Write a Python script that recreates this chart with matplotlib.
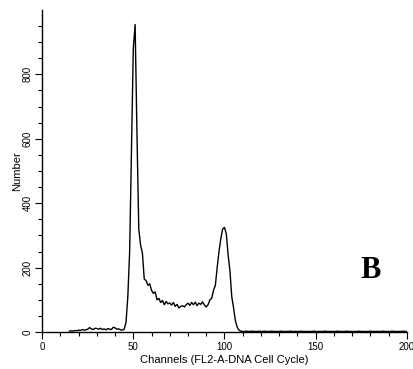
"""
DNA cell cycle histogram (panel B)
"""

import matplotlib
matplotlib.use("Agg")
import matplotlib.pyplot as plt
from matplotlib.ticker import MultipleLocator, FixedLocator

# histogram counts, one value per channel, starting at channel 15
start_channel = 15
counts_low = [3, 4, 3, 5, 4, 6, 5, 8, 6, 7, 9, 14, 10, 8, 12,
              11, 9, 12, 8, 10, 7, 11, 9, 8, 15, 13, 9, 10, 7, 6, 9]          # ch 15-45
counts_g1 = [30, 110, 250, 560, 880, 955, 620, 320, 270, 245, 165]           # ch 46-56
counts_s = [160, 145, 150, 130, 120, 125, 100, 105, 92, 98, 85, 95, 88, 90,
            84, 92, 80, 86, 75, 80, 82, 78, 85, 90, 83, 92, 85, 93, 82, 90,
            86, 94, 84, 78, 85, 100, 105, 130, 145]                          # ch 57-95
counts_g2 = [200, 250, 290, 320, 325, 305, 240, 190, 110, 75, 35, 15, 6, 3]  # ch 96-109
counts_tail = [2, 2, 3, 2, 2, 3, 2, 2, 2, 3, 2, 2, 3, 2, 2, 2, 3, 2, 2, 2,
               2, 3, 2, 2, 2, 2, 3, 2, 2, 2, 2, 2, 3, 2, 2, 2, 2, 2, 2, 3,
               2, 2, 2, 2, 2, 3, 2, 2, 2, 2, 2, 2, 3, 2, 2, 2, 2, 3, 2, 2,
               2, 2, 2, 2, 3, 2, 2, 2, 2, 2, 3, 2, 2, 2, 2, 2, 2, 3, 2, 2,
               2, 2, 3, 2, 2, 2, 2, 2, 3, 2, 2]                               # ch 110-200

counts = counts_low + counts_g1 + counts_s + counts_g2 + counts_tail
channels = list(range(start_channel, start_channel + len(counts)))

x_ticks = [0, 50, 100, 150, 200]
y_ticks = [0, 200, 400, 600, 800]
y_minor_ticks = list(range(0, 1000, 50))

plt.rcParams['font.family'] = ['Liberation Sans', 'DejaVu Sans']

fig = plt.figure(figsize=(4.13, 3.69), dpi=100)
ax = fig.add_axes([0.102, 0.100, 0.883, 0.873])

ax.plot(channels, counts, color="black", linewidth=1.0)

ax.set_xlim(0, 200)
ax.set_ylim(0, 1000)

ax.spines['top'].set_visible(False)
ax.spines['right'].set_visible(False)
ax.spines['left'].set_linewidth(1.0)
ax.spines['bottom'].set_linewidth(1.0)

ax.set_xticks(x_ticks)
ax.set_yticks(y_ticks)
ax.xaxis.set_minor_locator(MultipleLocator(10))
ax.yaxis.set_minor_locator(FixedLocator(y_minor_ticks))
ax.tick_params(axis='both', which='major', length=5, width=0.8, labelsize=7, pad=2)
ax.tick_params(axis='both', which='minor', length=3, width=0.8)
for lbl in ax.get_yticklabels():
    lbl.set_rotation(90)
    lbl.set_va('center')

ax.set_xlabel("Channels (FL2-A-DNA Cell Cycle)", fontsize=8, labelpad=2)
ax.set_ylabel("Number", fontsize=8, labelpad=0)

ax.text(0.90, 0.19, "B", transform=ax.transAxes, fontsize=22,
        fontweight='bold', family='Liberation Serif', ha='center', va='center')

fig.savefig("out.png", dpi=100)
